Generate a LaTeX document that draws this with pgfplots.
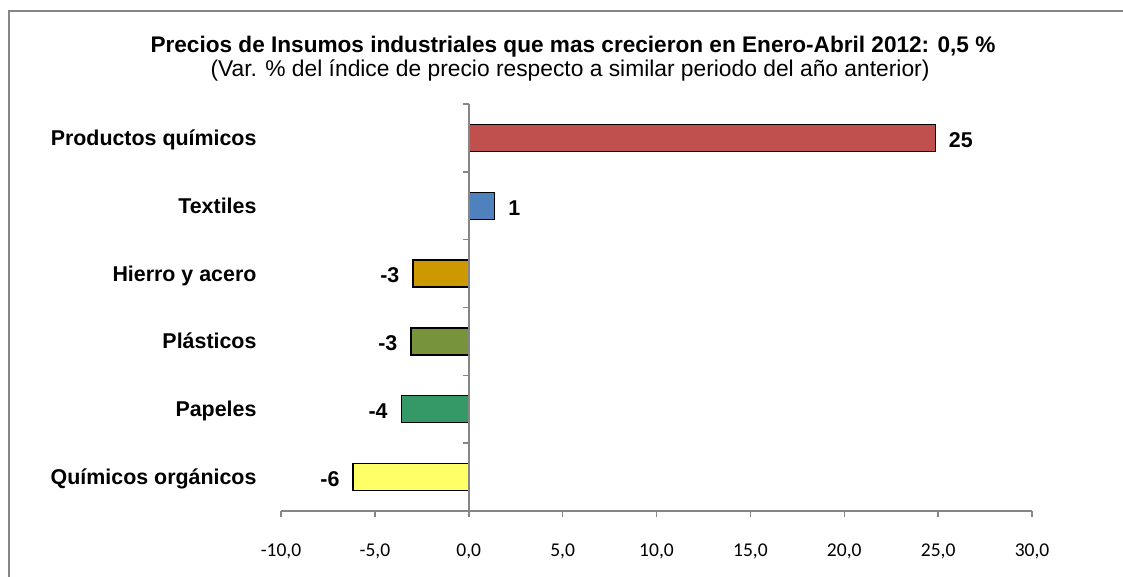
\documentclass[border=0pt]{standalone}
\usepackage{pgfplots}
\pgfplotsset{compat=1.18}
\usepackage{fontspec}
\setmainfont{Liberation Sans}
\newfontfamily\carlito{Carlito}
\definecolor{cred}{RGB}{192,80,77}
\definecolor{cblue}{RGB}{79,129,189}
\definecolor{cgold}{RGB}{204,153,0}
\definecolor{colive}{RGB}{119,147,60}
\definecolor{cgreen}{RGB}{52,153,102}
\definecolor{cyellow}{RGB}{255,255,102}
\definecolor{axgray}{RGB}{134,134,134}
\begin{document}
\begin{tikzpicture}
\useasboundingbox (0pt,0pt) rectangle (1123pt,576pt);
\draw[axgray, line width=2pt] (9pt,-5pt) -- (9pt,565pt) -- (1130pt,565pt);
\node[font=\fontsize{22.6}{26}\selectfont\bfseries, anchor=base] at (573pt,523pt) {Precios de Insumos industriales que mas crecieron en Enero-Abril 2012: 0,5 \%};
\node[font=\fontsize{22.8}{26}\selectfont, anchor=base] at (570pt,499pt) {(Var. \% del índice de precio respecto a similar periodo del año anterior)};
\begin{axis}[
  at={(281pt,65pt)}, anchor=south west,
  scale only axis, width=751pt, height=407pt,
  xmin=-10, xmax=30, ymin=-0.5, ymax=5.5,
  axis x line*=bottom, axis y line*=left,
  y axis line style={draw=none},
  x axis line style={axgray, line width=1.5pt},
  xtick={-10,-5,0,5,10,15,20,25,30},
  xticklabels={{-10,0},{-5,0},{0,0},{5,0},{10,0},{15,0},{20,0},{25,0},{30,0}},
  xticklabel style={font=\carlito\fontsize{19.5}{23}\selectfont, yshift=-23pt},
  tick align=outside,
  x tick style={axgray, line width=1.5pt},
  major tick length=6pt,
  ytick={0,1,2,3,4,5},
  yticklabels={Químicos orgánicos, Papeles, Plásticos, Hierro y acero, Textiles, Productos químicos},
  y tick style={draw=none},
  yticklabel style={font=\fontsize{21.4}{25}\selectfont\bfseries, anchor=base east, xshift=-15pt, yshift=-7.5pt},
  xbar, bar width=27pt, bar shift=0pt,
  point meta=explicit symbolic,
  nodes near coords,
  nodes near coords style={font=\fontsize{21.4}{25}\selectfont\bfseries, inner sep=0pt, yshift=-2pt},
  clip=false,
]
\addplot[fill=cred, draw=black, line width=1.2pt, nodes near coords style={anchor=west, xshift=13pt}] coordinates {(24.85,5) [25]};
\addplot[fill=cblue, draw=black, line width=1.2pt, nodes near coords style={anchor=west, xshift=13pt}] coordinates {(1.38,4) [1]};
\addplot[fill=cgold, draw=black, line width=1.2pt, nodes near coords style={anchor=east, xshift=-13pt}] coordinates {(-2.97,3) [-3]};
\addplot[fill=colive, draw=black, line width=1.2pt, nodes near coords style={anchor=east, xshift=-13pt}] coordinates {(-3.08,2) [-3]};
\addplot[fill=cgreen, draw=black, line width=1.2pt, nodes near coords style={anchor=east, xshift=-13pt}] coordinates {(-3.6,1) [-4]};
\addplot[fill=cyellow, draw=black, line width=1.2pt, nodes near coords style={anchor=east, xshift=-13pt}] coordinates {(-6.16,0) [-6]};
\draw[axgray, line width=1.5pt] (axis cs:0,-0.5) -- (axis cs:0,5.5);
\pgfplotsinvokeforeach{-0.5,0.5,1.5,2.5,3.5,4.5,5.5}{\draw[axgray, line width=1.5pt] (axis cs:0,#1) -- ++(-6pt,0pt);}
\end{axis}
\end{tikzpicture}
\end{document}
